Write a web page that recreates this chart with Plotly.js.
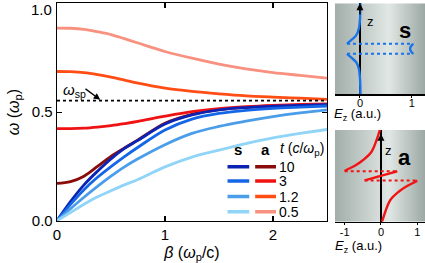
<!DOCTYPE html>
<html>
<head>
<meta charset="utf-8">
<script src="https://cdn.plot.ly/plotly-3.0.1.min.js"></script>
<style>html,body{margin:0;padding:0;background:#fff}#chart{width:425px;height:263px}</style>
</head>
<body>
<div id="chart"></div>
<script>
// ---- main dispersion data ----
const beta = [0, 0.125, 0.25, 0.375, 0.5, 0.625, 0.75, 1.0, 1.25, 1.5, 1.75, 2.0, 2.25, 2.5];
const thicknessLabels = ['10', '3', '1.2', '0.5'];
const yTickLabels = ['0.0', '0.5', '1.0'];
const sMode10  = [0, 0.088, 0.165, 0.228, 0.285, 0.333, 0.370, 0.445, 0.487, 0.510, 0.521, 0.527, 0.531, 0.534];
const sMode3   = [0, 0.075, 0.143, 0.200, 0.249, 0.295, 0.338, 0.418, 0.468, 0.494, 0.508, 0.517, 0.523, 0.528];
const sMode1p2 = [0, 0.055, 0.108, 0.158, 0.205, 0.248, 0.285, 0.350, 0.402, 0.434, 0.458, 0.479, 0.496, 0.510];
const sMode0p5 = [0, 0.038, 0.076, 0.110, 0.138, 0.165, 0.190, 0.248, 0.293, 0.325, 0.355, 0.381, 0.402, 0.420];
const aMode10  = [0.172, 0.180, 0.205, 0.250, 0.296, 0.335, 0.372, 0.449, 0.490, 0.512, 0.522, 0.528, 0.531, 0.534];
const aMode3   = [0.424, 0.424, 0.426, 0.431, 0.438, 0.447, 0.457, 0.481, 0.502, 0.516, 0.525, 0.531, 0.535, 0.538];
const aMode1p2 = [0.687, 0.686, 0.682, 0.673, 0.661, 0.647, 0.633, 0.610, 0.595, 0.584, 0.575, 0.569, 0.564, 0.559];
const aMode0p5 = [0.887, 0.886, 0.881, 0.870, 0.857, 0.838, 0.818, 0.779, 0.748, 0.721, 0.699, 0.682, 0.669, 0.656];
const omegaSp = 0.553;

// ---- inset s (symmetric) field profile ----
const sUpperEz = [-0.25, -0.17, -0.07, -0.02, 0.0, 0.01];
const sUpperZ  = [0.55, 0.95, 1.5, 2.25, 3.2, 5];
const sLowerEz = [-0.25, -0.17, -0.07, -0.02, 0.0, 0.01];
const sLowerZ  = [-0.55, -0.95, -1.5, -2.25, -3.2, -5];
const sInsideEz = [1.03, 0.985, 0.97, 0.985, 1.03];
const sInsideZ  = [0.55, 0.27, 0, -0.27, -0.55];
const sDotEz = [-0.25, 1.03];
const sBand = 0.55;

// ---- inset a (antisymmetric) field profile ----
const aUpperEz = [-1.0, -0.95, -0.72, -0.49, -0.26, -0.12, -0.03];
const aUpperZ  = [0.5, 0.64, 1.11, 1.73, 2.63, 3.91, 5];
const aLowerEz = [1.0, 0.95, 0.72, 0.49, 0.26, 0.12, 0.03];
const aLowerZ  = [-0.5, -0.64, -1.11, -1.73, -2.63, -3.91, -5];
const aInsideEz = [-0.45, -0.2, 0, 0.2, 0.45];
const aInsideZ  = [-0.5, -0.22, 0, 0.22, 0.5];
const aDotTopEz = [-1.0, 0.45];
const aDotBotEz = [-0.45, 1.0];
const aBand = 0.5;

const sColors = ['#0b24b4', '#1566e6', '#4b9de9', '#90d4f7'];
const aColors = ['#8a0b0b', '#f01212', '#ff4d14', '#f8917f'];
const sSeries = [sMode10, sMode3, sMode1p2, sMode0p5];
const aSeries = [aMode10, aMode3, aMode1p2, aMode0p5];

const traces = [];
aSeries.forEach((ys, i) => traces.push({x: beta, y: ys, type: 'scatter', mode: 'lines',
  line: {color: aColors[i], width: 2.8, shape: 'spline'}, xaxis: 'x', yaxis: 'y', hoverinfo: 'skip'}));
sSeries.forEach((ys, i) => traces.push({x: beta, y: ys, type: 'scatter', mode: 'lines',
  line: {color: sColors[i], width: 2.8, shape: 'spline'}, xaxis: 'x', yaxis: 'y', hoverinfo: 'skip'}));
traces.push({x: [0, 2.5], y: [omegaSp, omegaSp], type: 'scatter', mode: 'lines',
  line: {color: '#000', width: 1.6, dash: '3px,3px'}, xaxis: 'x', yaxis: 'y'});

// inset s
const sBlue = '#1a73e8';
[[sUpperEz, sUpperZ], [sLowerEz, sLowerZ], [sInsideEz, sInsideZ]].forEach(p => traces.push({
  x: p[0], y: p[1], type: 'scatter', mode: 'lines', line: {color: sBlue, width: 2.4, shape: 'spline'},
  xaxis: 'x2', yaxis: 'y2'}));
[sBand, -sBand].forEach(z => traces.push({x: sDotEz, y: [z, z], type: 'scatter', mode: 'lines',
  line: {color: sBlue, width: 2, dash: 'dot'}, xaxis: 'x2', yaxis: 'y2'}));

// inset a
const aRed = '#f01414';
[[aUpperEz, aUpperZ], [aLowerEz, aLowerZ], [aInsideEz, aInsideZ]].forEach(p => traces.push({
  x: p[0], y: p[1], type: 'scatter', mode: 'lines', line: {color: aRed, width: 2.4, shape: 'spline'},
  xaxis: 'x3', yaxis: 'y3'}));
traces.push({x: aDotTopEz, y: [aBand, aBand], type: 'scatter', mode: 'lines',
  line: {color: aRed, width: 2, dash: 'dot'}, xaxis: 'x3', yaxis: 'y3'});
traces.push({x: aDotBotEz, y: [-aBand, -aBand], type: 'scatter', mode: 'lines',
  line: {color: aRed, width: 2, dash: 'dot'}, xaxis: 'x3', yaxis: 'y3'});

const svg = "<svg xmlns='http://www.w3.org/2000/svg' width='100' height='100' preserveAspectRatio='none'>" +
  "<defs><linearGradient id='g' x1='0' x2='1' y1='0' y2='0'>" +
  "<stop offset='0' stop-color='#a2aeaa'/><stop offset='0.6' stop-color='#e1e7e4'/><stop offset='1' stop-color='#9ca8a4'/>" +
  "</linearGradient></defs><rect width='100' height='100' fill='url(#g)'/></svg>";
const grad = 'data:image/svg+xml;charset=utf-8,' + encodeURIComponent(svg);

const FONT = 'Liberation Sans, Arial, sans-serif';
const mainAxis = {showline: true, linecolor: '#000', linewidth: 1.3, mirror: 'ticks', ticks: 'inside',
  ticklen: 5, tickcolor: '#000', tickwidth: 1.2, showgrid: false, zeroline: false,
  tickfont: {size: 15, color: '#000', family: FONT}};

const legendRowsY = [0.249, 0.183, 0.111, 0.0415];
const shapes = [
  {type: 'rect', xref: 'x2 domain', x0: 0, x1: 1, yref: 'y2', y0: -sBand, y1: sBand,
   fillcolor: '#d5e3f2', line: {width: 0}, layer: 'below'},
  {type: 'rect', xref: 'x3 domain', x0: 0, x1: 1, yref: 'y3', y0: -aBand, y1: aBand,
   fillcolor: '#d5e3f2', line: {width: 0}, layer: 'below'}
];
const annotations = [
  // top y tick label, nudged down inside the page as in the reference
  {xref: 'paper', yref: 'paper', x: 53.5 / 425, y: (263 - 10) / 263, xanchor: 'right', yanchor: 'middle',
   text: yTickLabels[2], showarrow: false, font: {size: 15, color: '#000', family: FONT}},
  {xref: 'x', yref: 'y', x: 0.158, y: 0.6, text: '<i>ω</i><sub>sp</sub>', showarrow: false,
   font: {size: 15, color: '#000', family: FONT}},
  {xref: 'x', yref: 'y', x: 0.40, y: 0.557, axref: 'x', ayref: 'y', ax: 0.25, ay: 0.612, text: '',
   showarrow: true, arrowhead: 2, arrowsize: 1, arrowwidth: 1.3, arrowcolor: '#000'},
  {xref: 'x', yref: 'y', x: 1.679, y: 0.326, text: '<b>s</b>', showarrow: false, font: {size: 15, color: '#000', family: FONT}},
  {xref: 'x', yref: 'y', x: 1.935, y: 0.326, text: '<b>a</b>', showarrow: false, font: {size: 15, color: '#000', family: FONT}},
  {xref: 'x', yref: 'y', x: 2.05, y: 0.33, xanchor: 'left', text: '<i>t</i> (<i>c</i>/<i>ω</i><sub>p</sub>)',
   showarrow: false, font: {size: 14, color: '#000', family: FONT}},
  // inset labels
  {xref: 'x2 domain', yref: 'y2 domain', x: 0.87, y: 0.86, text: '<b>s</b>', showarrow: false, font: {size: 22, color: '#000', family: FONT}},
  {xref: 'x3 domain', yref: 'y3 domain', x: 0.87, y: 0.86, text: '<b>a</b>', showarrow: false, font: {size: 22, color: '#000', family: FONT}},
  {xref: 'x2 domain', yref: 'y2 domain', x: 0.39, y: 0.9, text: 'z', showarrow: false, font: {size: 13, color: '#000', family: FONT}},
  {xref: 'x3 domain', yref: 'y3 domain', x: 0.6, y: 0.88, text: 'z', showarrow: false, font: {size: 13, color: '#000', family: FONT}},
  {xref: 'x2', yref: 'y2', x: 0, y: 5, axref: 'x2', ayref: 'y2', ax: 0, ay: 3.6, text: '',
   showarrow: true, arrowhead: 2, arrowsize: 1, arrowwidth: 1.4, arrowcolor: '#000'},
  {xref: 'x3', yref: 'y3', x: 0, y: 4.6, axref: 'x3', ayref: 'y3', ax: 0, ay: 3.2, text: '',
   showarrow: true, arrowhead: 2, arrowsize: 1, arrowwidth: 1.4, arrowcolor: '#000'},
  // inset axis titles
  {xref: 'paper', yref: 'paper', x: 383 / 425, y: (263 - 104) / 263, yanchor: 'top', text: '<i>E</i><sub>z</sub> (a.u.)',
   showarrow: false, font: {size: 13, color: '#000', family: FONT}},
  {xref: 'paper', yref: 'paper', x: 384 / 425, y: (263 - 236) / 263, yanchor: 'top', text: '<i>E</i><sub>z</sub> (a.u.)',
   showarrow: false, font: {size: 13, color: '#000', family: FONT}}
];
thicknessLabels.forEach((lab, i) => {
  shapes.push({type: 'line', xref: 'x', yref: 'y', x0: 1.579, x1: 1.78, y0: legendRowsY[i], y1: legendRowsY[i],
    line: {color: sColors[i], width: 3.5}});
  shapes.push({type: 'line', xref: 'x', yref: 'y', x0: 1.835, x1: 2.028, y0: legendRowsY[i], y1: legendRowsY[i],
    line: {color: aColors[i], width: 3.5}});
  annotations.push({xref: 'x', yref: 'y', x: 2.04, y: legendRowsY[i], xanchor: 'left', text: lab,
    showarrow: false, font: {size: 14, color: '#000', family: FONT}});
});

const insetX = {showline: true, linecolor: '#000', linewidth: 1.2, ticks: 'outside', ticklen: 2,
  tickcolor: '#000', showgrid: false, zeroline: true, zerolinecolor: '#000', zerolinewidth: 1.3,
  tickfont: {size: 11, color: '#000', family: FONT}};
const insetY = {range: [-5, 5], showline: false, showgrid: false, zeroline: false, showticklabels: false, ticks: ''};

const layout = {
  width: 425, height: 263, margin: {l: 0, r: 0, t: 0, b: 0},
  paper_bgcolor: '#fff', plot_bgcolor: 'rgba(0,0,0,0)', showlegend: false,
  font: {family: FONT, color: '#000'},
  xaxis: Object.assign({}, mainAxis, {domain: [0.1341, 0.7694], range: [0, 2.5], tickvals: [0, 1, 2], anchor: 'y',
    title: {text: '<i>β</i> (<i>ω</i><sub>p</sub>/c)', font: {size: 16, color: '#000', family: FONT}, standoff: 6}}),
  yaxis: Object.assign({}, mainAxis, {domain: [0.1608, 0.9867], range: [0, 1], tickvals: [0, 0.5, 1],
    ticktext: [yTickLabels[0], yTickLabels[1], ''], anchor: 'x',
    title: {text: '<i>ω</i> (<i>ω</i><sub>p</sub>)', font: {size: 16, color: '#000', family: FONT}, standoff: 8}}),
  xaxis2: Object.assign({}, insetX, {domain: [0.788, 1], range: [-0.484, 1.257], tickvals: [0, 1], ticktext: ['0', '1'],
    anchor: 'y2', ticklabelstandoff: -4}),
  yaxis2: Object.assign({}, insetY, {domain: [0.6414, 0.9875], anchor: 'x2'}),
  xaxis3: Object.assign({}, insetX, {domain: [0.788, 1], range: [-1.27, 1.215], tickvals: [-1, 0, 1], ticktext: ['-1', '0', '1'],
    anchor: 'y3', ticklabelstandoff: -2}),
  yaxis3: Object.assign({}, insetY, {domain: [0.157, 0.5057], anchor: 'x3'}),
  images: [
    {source: grad, xref: 'x2 domain', yref: 'y2 domain', x: 0, y: 1, sizex: 1, sizey: 1, xanchor: 'left', yanchor: 'top', sizing: 'stretch', layer: 'below'},
    {source: grad, xref: 'x3 domain', yref: 'y3 domain', x: 0, y: 1, sizex: 1, sizey: 1, xanchor: 'left', yanchor: 'top', sizing: 'stretch', layer: 'below'}
  ],
  shapes: shapes,
  annotations: annotations
};

Plotly.newPlot('chart', traces, layout, {staticPlot: true, displayModeBar: false});
</script>
</body>
</html>
